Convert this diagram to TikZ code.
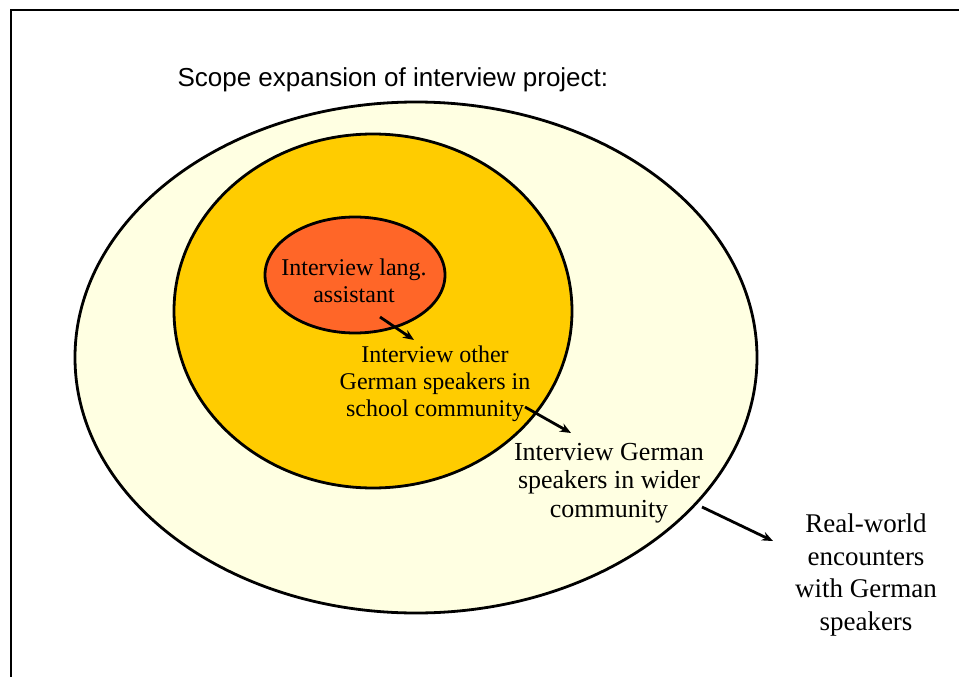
\documentclass[tikz,border=0pt]{standalone}
\usepackage{fontspec}
\setmainfont{Liberation Serif}
\newfontfamily\titlefont{Liberation Sans}
\usetikzlibrary{shapes.geometric, arrows.meta}

\definecolor{paleyellow}{RGB}{255,255,226}
\definecolor{gold}{RGB}{255,204,0}
\definecolor{orangered}{RGB}{255,102,40}

\tikzset{
  ring/.style={ellipse, draw=black, line width=2.8, inner sep=0pt},
  label/.style={anchor=base, align=center, text=black},
  pointer/.style={->, >={Stealth[length=11pt, width=9pt]}, line width=2.8}
}

\begin{document}
\begin{tikzpicture}[x=1pt, y=-1pt]
        \useasboundingbox (0,0) rectangle (959,677);
        \draw[line width=2.5] (11,677) -- (11,10) -- (959,10);
        \node[anchor=base west, font=\titlefont\fontsize{26}{30}\selectfont] (title) at (174,87) {Scope expansion of interview project:};
        % circles of the interview project
        \node[ring, fill=paleyellow, minimum width=682, minimum height=511] (world) at (416,357.5) {};
        \node[ring, fill=gold, minimum width=398, minimum height=354] (school) at (373,311) {};
        \node[ring, fill=orangered, minimum width=180, minimum height=116] (assistant) at (355,275) {};
        % texts (base = last line)
        \node[label, font=\fontsize{24}{27}\selectfont] (t1) at (354,302) {Interview lang.\\assistant};
        \node[label, font=\fontsize{24}{27}\selectfont] (t2) at (435,416) {Interview other\\German speakers in\\school community};
        \node[label, font=\fontsize{26}{28.5}\selectfont] (t3) at (609,517) {Interview German\\speakers in wider\\community};
        \node[label, font=\fontsize{27}{32.5}\selectfont] (t4) at (866,630) {Real-world\\encounters\\with German\\speakers};
        % arrows
        \foreach \n/\sx/\sy/\ex/\ey in {1/380/317/414/340, 2/525/407/571/433, 3/702/507/773/541}{
        \coordinate (s\n) at (\sx,\sy);
        \coordinate (e\n) at (\ex,\ey);
        \draw[pointer] (s\n) -- (e\n);
        }
\end{tikzpicture}
\end{document}
